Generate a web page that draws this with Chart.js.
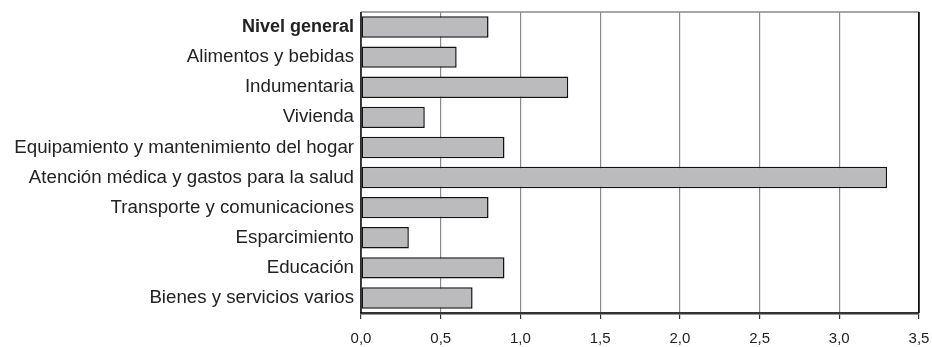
<!DOCTYPE html>
<html>
<head>
<meta charset="utf-8">
<script src="https://cdn.jsdelivr.net/npm/chart.js@4"></script>
<style>
  html, body { margin: 0; padding: 0; background: #fff; }
  #wrap { width: 932px; height: 347px; }
</style>
</head>
<body>
<div id="wrap"><canvas id="graph"></canvas></div>
<script>
// categories and values
var categorias = [
  "Nivel general",
  "Alimentos y bebidas",
  "Indumentaria",
  "Vivienda",
  "Equipamiento y mantenimiento del hogar",
  "Atención médica y gastos para la salud",
  "Transporte y comunicaciones",
  "Esparcimiento",
  "Educación",
  "Bienes y servicios varios"
];
var valores = [0.8, 0.6, 1.3, 0.4, 0.9, 3.3, 0.8, 0.3, 0.9, 0.7];
var ejeMin = 0;
var ejeMax = 3.5;
var ejePaso = 0.5;

//frame round the plot area
const marco = {
  id: "marco",
  afterDraw(chart) {
    const a = chart.chartArea, ctx = chart.ctx;
    ctx.save();
    ctx.strokeStyle = "#8a8a8a";
    ctx.lineWidth = 1.5;
    ctx.beginPath();
    ctx.moveTo(a.left, a.top);
    ctx.lineTo(a.right, a.top);
    ctx.stroke();
    ctx.strokeStyle = "#111";
    ctx.lineWidth = 1.5;
    ctx.beginPath();
    ctx.moveTo(a.right, a.top);
    ctx.lineTo(a.right, a.bottom);
    ctx.moveTo(a.left, a.top);
    ctx.lineTo(a.left, a.bottom);
    ctx.stroke();
    ctx.restore();
  }
};

Chart.defaults.font.family = "'Liberation Sans', Arial, sans-serif";
Chart.defaults.color = "#222";

const graph = new Chart("graph", {
  type: "bar",
  data: {
    labels: categorias,
    datasets: [{
      data: valores,
      backgroundColor: "#bbbbbe",
      borderColor: "#111",
      borderWidth: 1.5,
      borderSkipped: false,
      barPercentage: 0.71,
      categoryPercentage: 1.0
    }]
  },
  options: {
    indexAxis: "y",
    responsive: true,
    maintainAspectRatio: false,
    animation: false,
    layout: { padding: { top: 12, right: 13, left: 0, bottom: 0 } },
    plugins: {
      legend: { display: false },
      tooltip: { enabled: false }
    },
    scales: {
      x: {
        min: ejeMin,
        max: ejeMax,
        afterFit: s => { s.height = 34; s.paddingLeft = 0; s.paddingRight = 0; },
        ticks: {
          stepSize: ejePaso,
          padding: 11,
          font: { size: 15 },
          color: "#222",
          maxRotation: 0,
          callback: v => v.toFixed(1).replace(".", ",")
        },
        grid: {
          color: ctx => (ctx.tick && ctx.tick.value === ejeMax) ? "#111" : "#8a8a8a",
          lineWidth: 1.2,
          tickLength: 6,
          tickColor: "#333",
          drawTicks: true
        },
        border: { display: true, color: "#333", width: 2.5 }
      },
      y: {
        afterFit: s => { s.width = 361; s.paddingTop = 0; s.paddingBottom = 0; },
        ticks: {
          padding: 7,
          font: ctx => (ctx.index === 0 ? { size: 18, weight: "bold" } : { size: 18.7, weight: "normal" }),
          color: "#222"
        },
        grid: { display: false, drawTicks: false },
        border: { display: false }
      }
    }
  },
  plugins: [marco]
});
</script>
</body>
</html>
